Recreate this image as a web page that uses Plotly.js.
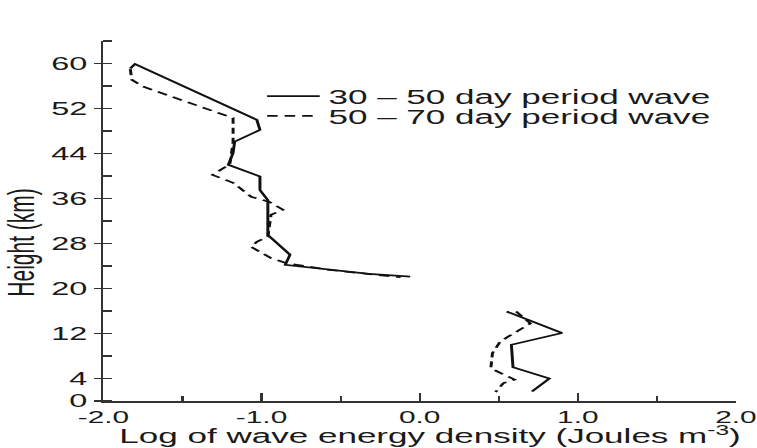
<!DOCTYPE html>
<html>
<head>
<meta charset="utf-8">
<script src="https://cdn.plot.ly/plotly-3.0.1.min.js"></script>
<style>
  html, body { margin: 0; padding: 0; background: #fff; overflow: hidden; }
  #wrap { width: 757px; height: 448px; overflow: hidden; }
  /* the figure is laid out narrow and widened to the page width */
  #chart { width: 432px; height: 448px; transform: scaleX(1.7523); transform-origin: 0 0; }
</style>
</head>
<body>
<div id="wrap"><div id="chart"></div></div>
<script>
// Series: log10 wave energy density (J m^-3) against height (km).
// null separates the stratospheric profile from the lower one.
const seriesNames = ['30 \u2013 50 day period wave', '50 \u2013 70 day period wave'];

const energy3050 = [-1.83, -1.80, -1.03, -1.01, -1.17, -1.18, -1.21, -1.01, -1.01, -0.96, -0.96,
                    -0.82, -0.85, -0.57, -0.32, -0.06,
                    null,
                    0.55, 0.90, 0.58, 0.59, 0.82, 0.71];
const height3050 = [59.1, 59.9, 50.0, 48.2, 46.1, 44.1, 42.0, 39.9, 37.5, 35.7, 29.5,
                    26.0, 24.2, 23.3, 22.6, 22.1,
                    null,
                    15.9, 12.1, 10.0, 6.0, 4.0, 1.7];

const energy5070 = [-1.83, -1.82, -1.75, -1.18, -1.18, -1.20, -1.31, -1.18, -1.065, -0.95, -0.865,
                    -0.94, -0.96, -1.03, -1.065, -0.94, -0.84, -0.57, -0.33, -0.12,
                    null,
                    0.61, 0.70, 0.51, 0.46, 0.45, 0.60, 0.53, 0.48];
const height5070 = [59.0, 57.1, 55.9, 50.3, 46.0, 42.1, 40.2, 38.8, 36.3, 35.4, 34.0,
                    33.1, 29.2, 28.3, 27.4, 25.4, 24.5, 23.3, 22.6, 22.0,
                    null,
                    15.9, 13.8, 10.6, 8.5, 5.8, 3.8, 3.2, 1.6];

// Axis ticks
const xTickVals = [-2, -1, 0, 1, 2];
const xTickText = ['-2.0', '-1.0', '0.0', '1.0', '2.0'];
const yTickVals = [0, 4, 12, 20, 28, 36, 44, 52, 60];
const yTickText = ['0', '4', '12', '20', '28', '36', '44', '52', '60'];

const ink = '#111';
const fontFamily = '"Liberation Sans", Arial, Helvetica, sans-serif';

const traces = [
  {
    x: energy3050, y: height3050, name: seriesNames[0],
    type: 'scatter', mode: 'lines', connectgaps: false,
    line: { color: ink, width: 1.7 },
    legend: 'legend'
  },
  {
    x: energy5070, y: height5070, name: seriesNames[1],
    type: 'scatter', mode: 'lines', connectgaps: false,
    line: { color: ink, width: 1.7, dash: '6px,4px' },
    legend: 'legend2'
  }
];

const layout = {
  width: 432, height: 448,
  margin: { l: 59.4, r: 12, t: 41, b: 47 },
  paper_bgcolor: '#fff', plot_bgcolor: '#fff',
  font: { family: fontFamily, color: '#1a1a1a' },
  showlegend: true,
  legend: {
    x: 0.245, y: 0.847, xanchor: 'left', yanchor: 'middle',
    bgcolor: 'rgba(0,0,0,0)', font: { size: 20, color: '#1a1a1a' }
  },
  legend2: {
    x: 0.245, y: 0.792, xanchor: 'left', yanchor: 'middle',
    bgcolor: 'rgba(0,0,0,0)', font: { size: 20, color: '#1a1a1a' }
  },
  xaxis: {
    range: [-2, 2], tickmode: 'array', tickvals: xTickVals, ticktext: xTickText,
    ticks: 'inside', ticklen: 8, tickwidth: 1.2, tickcolor: '#333',
    minor: { tickmode: 'linear', tick0: 0, dtick: 0.5, ticks: 'inside', ticklen: 5, tickwidth: 1.2, tickcolor: '#333' },
    showline: true, linecolor: '#333', linewidth: 1.5,
    showgrid: false, zeroline: false,
    ticklabeloverflow: 'allow',
    tickfont: { size: 17 }
  },
  yaxis: {
    range: [0, 64], tickmode: 'array', tickvals: yTickVals, ticktext: yTickText,
    ticks: 'outside', ticklen: 4, tickwidth: 1.2, tickcolor: '#333',
    minor: { tickmode: 'linear', tick0: 0, dtick: 4, ticks: 'inside', ticklen: 5, tickwidth: 1.2, tickcolor: '#333' },
    showline: true, linecolor: '#333', linewidth: 1.5,
    showgrid: false, zeroline: false,
    tickfont: { size: 18.5 }
  },
  annotations: [
    {
      // x-axis title
      text: 'Log of wave energy density (Joules m<sup>-3</sup>)',
      xref: 'paper', yref: 'paper', x: 0.517, y: -0.131,
      xanchor: 'center', yanchor: 'bottom', showarrow: false, borderpad: 0,
      font: { size: 20, color: '#1a1a1a' }
    },
    {
      // y-axis title
      text: 'Height (km)', xref: 'paper', yref: 'paper', x: -0.13, y: 0.44,
      xanchor: 'center', yanchor: 'middle', textangle: -90, showarrow: false,
      font: { size: 21, color: '#1a1a1a' }
    }
  ]
};

Plotly.newPlot('chart', traces, layout, { staticPlot: true, displayModeBar: false });
</script>
</body>
</html>
